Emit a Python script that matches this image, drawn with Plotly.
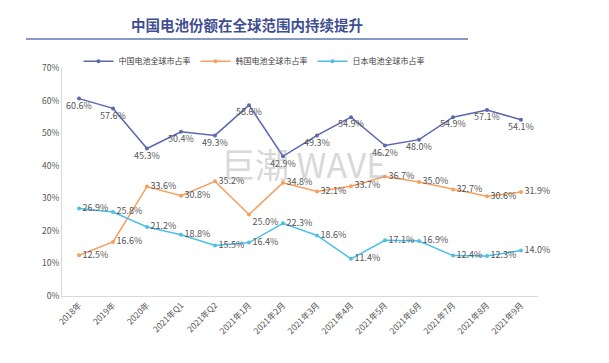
import plotly.graph_objects as go

categories = ["2018年", "2019年", "2020年", "2021年Q1", "2021年Q2", "2021年1月", "2021年2月",
              "2021年3月", "2021年4月", "2021年5月", "2021年6月", "2021年7月", "2021年8月", "2021年9月"]
china = [60.6, 57.6, 45.3, 50.4, 49.3, 58.6, 42.9, 49.3, 54.9, 46.2, 48.0, 54.9, 57.1, 54.1]
korea = [12.5, 16.6, 33.6, 30.8, 35.2, 25.0, 34.8, 32.1, 33.7, 36.7, 35.0, 32.7, 30.6, 31.9]
japan = [26.9, 25.8, 21.2, 18.8, 15.5, 16.4, 22.3, 18.6, 11.4, 17.1, 16.9, 12.4, 12.3, 14.0]

names = ["中国电池全球市占率", "韩国电池全球市占率", "日本电池全球市占率"]
colors = ["#5B67AE", "#F5A05F", "#4DBFE6"]

FONT = "Noto Sans CJK SC"
fig = go.Figure()

korea_pos = ["middle right"] * len(korea)
korea_pos[5] = "bottom right"

for vals, name, col, pos in [
    (china, names[0], colors[0], "bottom center"),
    (korea, names[1], colors[1], korea_pos),
    (japan, names[2], colors[2], "middle right"),
]:
    fig.add_trace(go.Scatter(
        x=categories, y=vals, name=name, mode="lines+markers+text",
        line=dict(color=col, width=1.5), marker=dict(color=col, size=4),
        text=[f"{v:.1f}%" for v in vals], textposition=pos,
        textfont=dict(size=9, color="#555555", family=FONT),
        cliponaxis=False,
    ))

# page has an 8px body margin; plot area in page pixels is x 62..538, y 68..296
fig.update_layout(
    width=593, height=347,
    margin=dict(l=54, r=63, t=60, b=59, autoexpand=False),
    paper_bgcolor="white", plot_bgcolor="white",
    font=dict(family=FONT, color="#555555"),
    showlegend=True,
    legend=dict(orientation="h", x=(254 - 62) / 476, xref="paper", xanchor="center",
                y=1.03, yanchor="middle", font=dict(size=8, color="#404040"),
                itemwidth=30, tracegroupgap=0),
    xaxis=dict(tickangle=-45, tickfont=dict(size=8.5, color="#555555"),
               showline=True, linecolor="#D9D9D9", linewidth=1, showgrid=False,
               ticks="", range=[-0.5, 13.5]),
    yaxis=dict(range=[0, 70], dtick=10, ticksuffix="%", tickfont=dict(size=8.5, color="#555555"),
               showline=True, linecolor="#D9D9D9", linewidth=1, showgrid=False,
               zeroline=False, ticks=""),
)

fig.add_annotation(text="<b>中国电池份额在全球范围内持续提升</b>", xref="paper", yref="paper",
                   x=(247 - 62) / 476, y=1 + (68 - 25) / 228, xanchor="center", yanchor="middle",
                   showarrow=False, font=dict(size=14.5, color="#3F4F92", family=FONT))
fig.add_shape(type="line", xref="paper", yref="paper",
              x0=(26 - 62) / 476, x1=(468 - 62) / 476,
              y0=1 + (68 - 39) / 228, y1=1 + (68 - 39) / 228,
              line=dict(color="#8A98C8", width=2))
fig.add_annotation(text="巨潮 WAVE", xref="paper", yref="paper",
                   x=(303 - 62) / 476, y=(296 - 163) / 228, xanchor="center", yanchor="middle",
                   showarrow=False, font=dict(size=34, color="rgba(160,160,160,0.42)", family=FONT))

fig.write_html("out.html")
